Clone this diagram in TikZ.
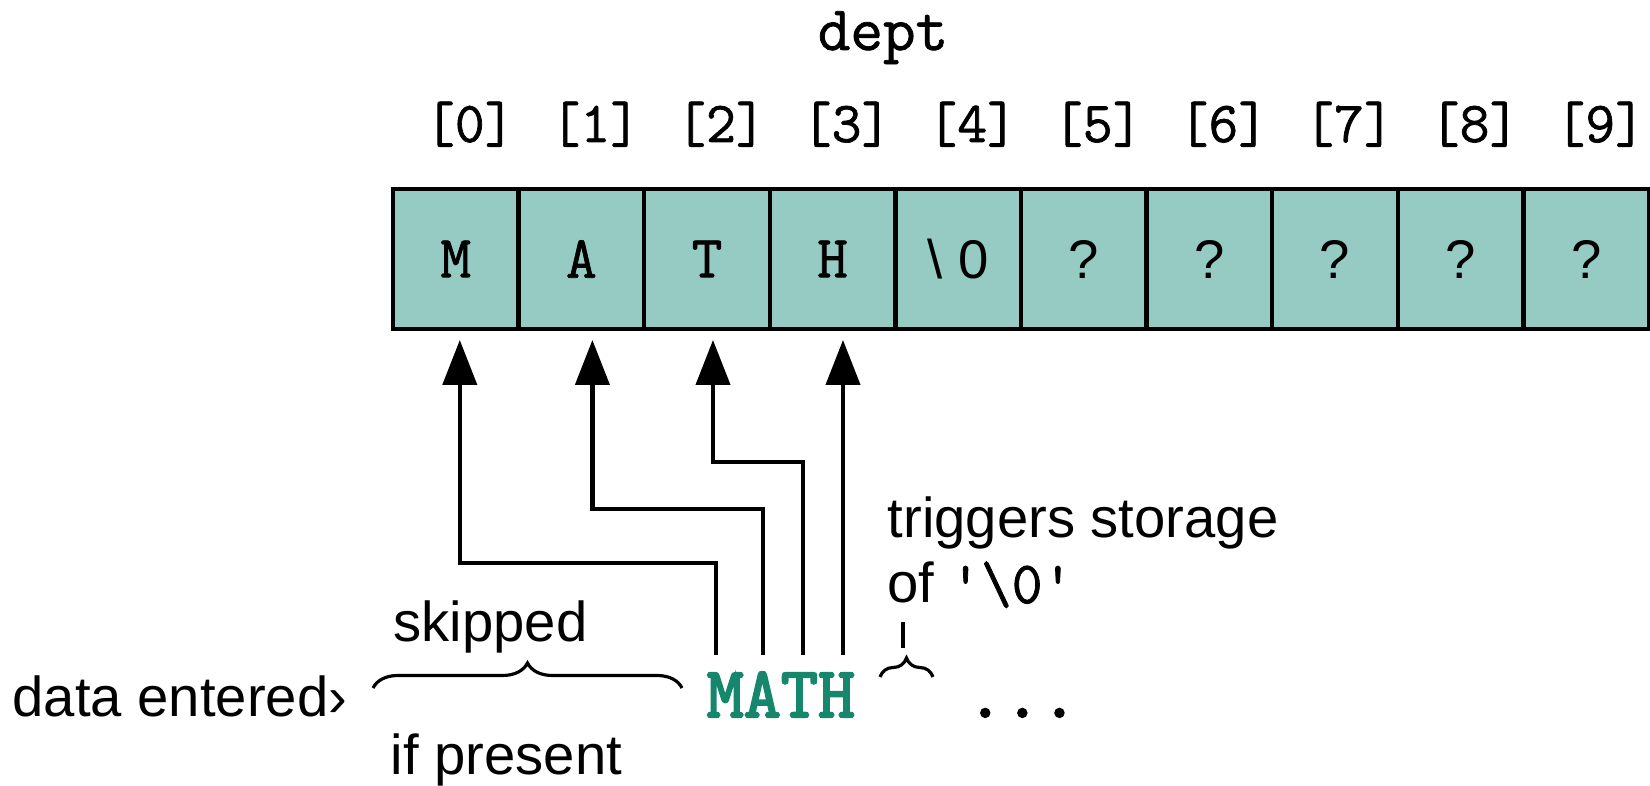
\documentclass[tikz,border=0pt]{standalone}
\usepackage{fontspec}
\setmainfont{Liberation Sans}
\newfontfamily\cellfont[FakeBold=1.2]{Latin Modern Mono}
\newfontfamily\typedfont[FakeBold=3]{Latin Modern Mono}
\usetikzlibrary{positioning,arrows.meta,decorations.pathreplacing}

\definecolor{cellfill}{RGB}{150,203,196}
\definecolor{mathgreen}{RGB}{22,135,108}

\tikzstyle{cell} = [rectangle, draw, fill=cellfill, line width=1.3pt,
minimum width=1.256cm, minimum height=1.40cm, inner sep=0pt, outer sep=0pt,
font=\cellfont\fontsize{17}{20}\selectfont]
\tikzstyle{idx} = [font=\cellfont\fontsize{16.5}{19}\selectfont, anchor=base, inner sep=0pt]
\tikzstyle{note} = [font=\fontsize{16}{19}\selectfont, anchor=base west, inner sep=0pt]
\tikzstyle{typed} = [font=\typedfont\fontsize{20.5}{24}\selectfont, anchor=base west, inner sep=0pt]
\tikzstyle{feed} = [draw, line width=1.2pt, -{Triangle[length=0.45cm,width=0.34cm]}, shorten >=0.11cm]
\tikzstyle{curly} = [draw, line width=0.9pt, decorate]

\begin{document}
\begin{tikzpicture}[node distance = 1.256cm, auto]
	\useasboundingbox (0,0) rectangle (16.5,-7.86);

	%Nodes
	\node [font=\cellfont\fontsize{18}{21}\selectfont, anchor=base, inner sep=0pt] (arr) at (8.83,-0.50) {dept};

	\node [cell] (c0) at (4.558,-2.59) {M};
	\node [cell, right of = c0] (c1) {A};
	\node [cell, right of = c1] (c2) {T};
	\node [cell, right of = c2] (c3) {H};
	\node [cell, right of = c3, font=\fontsize{15.5}{18}\selectfont] (c4) {\textbackslash\ 0};
	\foreach \i [count=\j from 4] in {5,...,9}
		\node [cell, right of = c\j, font=\fontsize{15.5}{18}\selectfont] (c\i) {?};

	\foreach \i in {0,...,9}
		\node [idx] (l\i) at ([xshift=0.14cm, yshift=0.47cm]c\i.north) {[\i]};

	\node [note] (entered) at (0.12,-7.17) {data entered›};
	\node [note] (skip) at (3.93,-6.42) {skipped};
	\node [note] (present) at (3.90,-7.75) {if present};
	\node [typed, text=mathgreen] (word) at (7.06,-7.17) {MATH};
	\node [typed] (more) at (9.66,-7.17) {...};
	\node [note] (trig) at (8.87,-5.38) {triggers storage};
	\node [note] (store) at (8.87,-6.03) {of {\cellfont\fontsize{17}{20}\selectfont\textquotesingle\textbackslash0\textquotesingle}};

	%Lines
	\coordinate (in0) at (7.16,-6.55);
	\coordinate (in1) at (7.63,-6.55);
	\coordinate (in2) at (8.03,-6.55);
	\coordinate (in3) at (8.43,-6.55);
	\foreach \i/\dx/\rise in {0/0.04/0.92, 1/0.11/1.46, 2/0.06/1.93}
		\path [feed] (in\i) -- ++(0,\rise) -| ([xshift=\dx cm]c\i.south);
	\path [feed] (in3) -- (in3 |- c3.south);

	%Braces
	\coordinate (skipL) at (3.73,-6.88);
	\coordinate (skipR) at (6.82,-6.88);
	\path [curly, decoration={brace, amplitude=0.25cm}] (skipL) -- (skipR);
	\coordinate (endL) at (8.80,-6.77);
	\coordinate (endR) at (9.33,-6.77);
	\path [curly, decoration={brace, amplitude=0.19cm}] (endL) -- (endR);
	\draw [line width=1pt] (9.03,-6.22) -- (9.03,-6.48);
\end{tikzpicture}
\end{document}
